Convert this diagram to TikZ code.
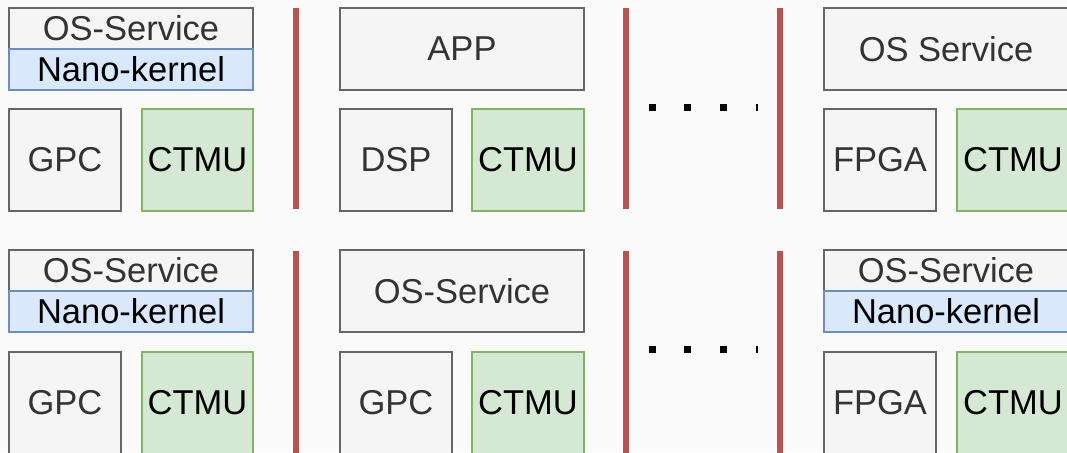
\documentclass[tikz,border=0pt]{standalone}
\usepackage{fontspec}
\setmainfont{Liberation Sans}
\usetikzlibrary{positioning}

\definecolor{grayfill}{HTML}{F5F5F5}
\definecolor{grayline}{HTML}{666666}
\definecolor{graytext}{HTML}{333333}
\definecolor{bluefill}{HTML}{DAE8FC}
\definecolor{blueline}{HTML}{6C8EBF}
\definecolor{greenfill}{HTML}{D5E8D4}
\definecolor{greenline}{HTML}{82B366}
\definecolor{redline}{HTML}{B85450}
\definecolor{backfill}{HTML}{FAFAFA}

\tikzset{
  blk/.style={rectangle,anchor=north west,inner sep=0pt,line width=1pt,
    font=\fontsize{17.25}{20}\selectfont},
  grayblk/.style={blk,draw=grayline,fill=grayfill,text=graytext},
  blueblk/.style={blk,draw=blueline,fill=bluefill,text=black},
  greenblk/.style={blk,draw=greenline,fill=greenfill,text=black},
  halfbox/.style={minimum width=122pt,minimum height=20.5pt},
  fullbox/.style={minimum width=122pt,minimum height=41pt},
  chipbox/.style={minimum width=56pt,minimum height=51pt},
  sepline/.style={draw=redline,line width=2.8pt},
  dotrow/.style={line width=3.5pt,dash pattern=on 3.5pt off 14.35pt}
}

\begin{document}
\begin{tikzpicture}[x=0.5pt,y=-0.5pt]
  \useasboundingbox[fill=backfill] (0,0) rectangle (1067,452);

  % upper row
  \node[grayblk,halfbox] (os1) at (8,7) {OS-Service};
  \node[blueblk,halfbox] (nk1) at (8,48) {Nano-kernel};
  \node[grayblk,chipbox] (gpc1) at (8,108) {GPC};
  \node[greenblk,chipbox,minimum width=55.5pt] (ct1) at (141,108) {CTMU};

  \node[grayblk,fullbox] (app) at (339,7) {APP};
  \node[grayblk,chipbox] (dsp) at (339,108) {DSP};
  \node[greenblk,chipbox] (ct2) at (471,108) {CTMU};

  \node[grayblk,fullbox] (os3) at (823,7) {OS Service};
  \node[grayblk,chipbox] (fpga1) at (823,108) {FPGA};
  \node[greenblk,chipbox] (ct3) at (956,108) {CTMU};

  % lower row
  \node[grayblk,halfbox] (os4) at (8,249) {OS-Service};
  \node[blueblk,halfbox] (nk4) at (8,290) {Nano-kernel};
  \node[grayblk,chipbox] (gpc4) at (8,351) {GPC};
  \node[greenblk,chipbox,minimum width=55.5pt] (ct4) at (141,351) {CTMU};

  \node[grayblk,fullbox] (os5) at (339,249) {OS-Service};
  \node[grayblk,chipbox] (gpc5) at (339,351) {GPC};
  \node[greenblk,chipbox] (ct5) at (471,351) {CTMU};

  \node[grayblk,halfbox] (os6) at (823,249) {OS-Service};
  \node[blueblk,halfbox] (nk6) at (823,290) {Nano-kernel};
  \node[grayblk,chipbox] (fpga6) at (823,351) {FPGA};
  \node[greenblk,chipbox] (ct6) at (956,351) {CTMU};

  % separators
  \foreach \x in {296,626,780} {
    \draw[sepline] (\x,8) -- (\x,209);
    \draw[sepline] (\x,251) -- (\x,455);
  }

  % dots
  \draw[dotrow] (648.5,107) -- (758,107);
  \draw[dotrow] (648.5,349) -- (758,349);
\end{tikzpicture}
\end{document}
